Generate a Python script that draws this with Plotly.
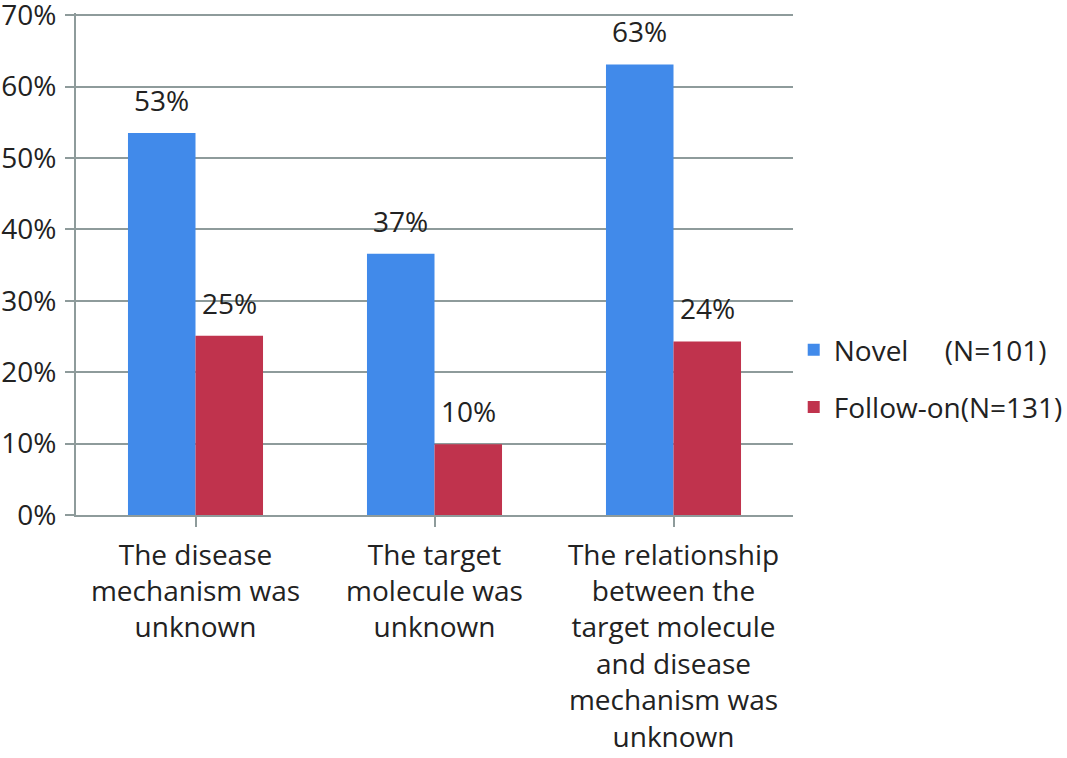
import plotly.graph_objects as go

categories = [
    "The disease<br>mechanism was<br>unknown",
    "The target<br>molecule was<br>unknown",
    "The relationship<br>between the<br>target molecule<br>and disease<br>mechanism was<br>unknown",
]
novel = [53.5, 36.6, 63.1]
follow_on = [25.1, 9.9, 24.3]
novel_labels = ["53%", "37%", "63%"]
follow_labels = ["25%", "10%", "24%"]
series_names = ["Novel\u00a0\u00a0\u00a0\u00a0\u00a0(N=101)", "Follow-on(N=131)"]
y_ticks = [0, 10, 20, 30, 40, 50, 60, 70]

BLUE = "#418AEA"
RED = "#C0334D"
GRID = "#8E9B9B"
FONT = "Open Sans"
FS = 28
bargap = 0.435

fig = go.Figure()
fig.add_trace(go.Bar(x=list(range(3)), y=novel, name=series_names[0],
                     marker=dict(color=BLUE, line=dict(width=0)), legendgroup="a"))
fig.add_trace(go.Bar(x=list(range(3)), y=follow_on, name=series_names[1],
                     marker=dict(color=RED, line=dict(width=0)), legendgroup="b"))

bw = (1 - bargap) / 2
for i in range(3):
    fig.add_annotation(x=i - bw / 2, y=novel[i], text=novel_labels[i], showarrow=False,
                       yanchor="bottom", yshift=12, font=dict(size=FS, color="#222", family=FONT))
    fig.add_annotation(x=i + bw / 2, y=follow_on[i], text=follow_labels[i], showarrow=False,
                       yanchor="bottom", yshift=12, font=dict(size=FS, color="#222", family=FONT))

fig.update_layout(
    width=1067, height=758,
    margin=dict(l=76, r=274, t=13, b=243, autoexpand=False),
    paper_bgcolor="white", plot_bgcolor="white",
    barmode="group", bargap=bargap, bargroupgap=0,
    font=dict(family=FONT, size=FS, color="#222"),
    showlegend=True,
    legend=dict(x=1.001, xanchor="left", y=0.272, yanchor="middle",
                font=dict(size=FS, family=FONT, color="#222"),
                traceorder="grouped", tracegroupgap=18, itemwidth=30,
                bgcolor="rgba(0,0,0,0)"),
    xaxis=dict(
        tickmode="array", tickvals=list(range(3)), ticktext=categories,
        range=[-0.5, 2.5], showline=True, linecolor=GRID, linewidth=2,
        ticks="outside", tickson="boundaries", ticklen=10, tickcolor=GRID, tickwidth=2,
        showgrid=False, tickfont=dict(size=FS, family=FONT, color="#222"),
        automargin=False, ticklabelstandoff=4,
    ),
    yaxis=dict(
        range=[0, 70.3], tickvals=y_ticks, ticktext=[f"{v}%" for v in y_ticks],
        showline=True, linecolor=GRID, linewidth=2, showgrid=True, gridcolor=GRID, gridwidth=2,
        ticks="outside", ticklen=9, tickcolor=GRID, tickwidth=2, zeroline=False,
        tickfont=dict(size=FS, family=FONT, color="#222"), automargin=False,
        ticklabelstandoff=3, ticklabeloverflow="allow",
    ),
)

fig.write_html("out.html", config={"displayModeBar": False},
               post_script="document.body.style.margin='0';")
